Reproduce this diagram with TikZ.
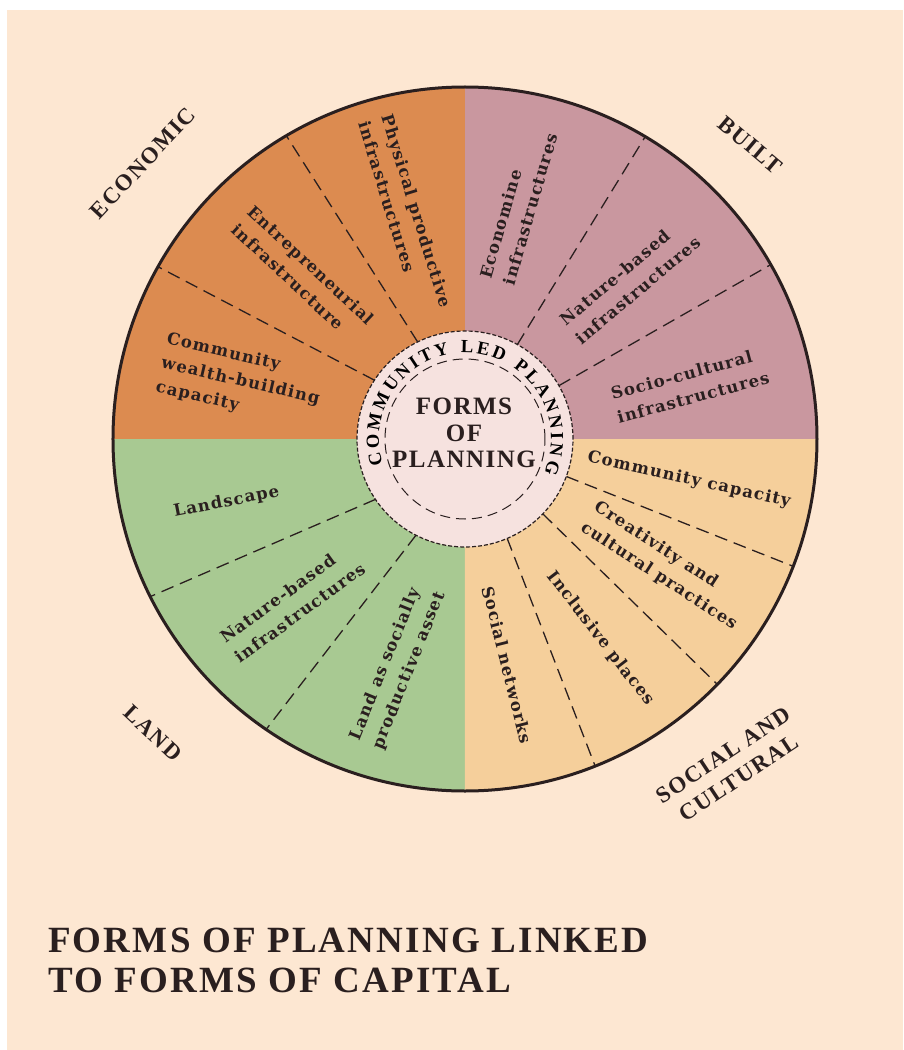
\documentclass[tikz,border=0pt]{standalone}
\usepackage{fontspec}
\setmainfont{Liberation Serif}
\newfontfamily\lblfont[LetterSpace=7]{DejaVu Serif}
\newfontfamily\capfont[LetterSpace=7]{Liberation Serif}
\newfontfamily\headfont[LetterSpace=6]{Liberation Serif}
\usetikzlibrary{decorations.text}

\definecolor{paper}{HTML}{FDE7D2}
\definecolor{ink}{HTML}{2A1F1F}
\definecolor{econ}{HTML}{DC8B50}
\definecolor{built}{HTML}{C9979F}
\definecolor{social}{HTML}{F5CF9B}
\definecolor{land}{HTML}{A8C992}
\definecolor{hub}{HTML}{F6E2DF}

\begin{document}
\begin{tikzpicture}[x=1pt,y=1pt]
	\tikzstyle{every node}=[align=center, inner sep=1pt, text=ink]
	\tikzstyle{sect}=[align=left, font=\lblfont\bfseries\fontsize{16.5}{24.5}\selectfont]
	\tikzstyle{quad}=[font=\capfont\bfseries\fontsize{23}{28}\selectfont]
	\tikzstyle{divider}=[draw=ink, line width=1.3pt, dash pattern=on 13pt off 7pt]

	\fill[white] (-465,-611) rectangle (438,439);
	\fill[paper] (-458,-611) rectangle (438,429);
	\useasboundingbox (-465,-611) rectangle (438,439);

	\fill[built]  (0,0) -- (0:352)   arc[start angle=0,   end angle=90,  radius=352] -- cycle;
	\fill[econ]   (0,0) -- (90:352)  arc[start angle=90,  end angle=180, radius=352] -- cycle;
	\fill[land]   (0,0) -- (180:352) arc[start angle=180, end angle=270, radius=352] -- cycle;
	\fill[social] (0,0) -- (270:352) arc[start angle=270, end angle=360, radius=352] -- cycle;

	\draw[divider] (116:108) -- (120.5:352);
	\draw[divider] (147:108) -- (150.7:352);
	\draw[divider] (61:108) -- (59.2:352);
	\draw[divider] (29.6:108) -- (29.7:352);
	\draw[divider] (214:108) -- (206.6:352);
	\draw[divider] (243:108) -- (235.6:352);
	\draw[divider] (-20.3:108) -- (-21.2:352);
	\draw[divider] (-43.9:108) -- (-44.2:352);
	\draw[divider] (-67:108) -- (-68.3:352);

	\draw[ink, line width=3pt] (0,0) circle[radius=352];
	\fill[hub] (0,0) circle[radius=108];
	\draw[ink, line width=1.2pt, dash pattern=on 4pt off 2pt] (0,0) circle[radius=108];
	\draw[ink, line width=1pt, dash pattern=on 10pt off 6pt] (0,0) circle[radius=80];

	\path[decorate, decoration={text along path, text align=fit to path,
		text={|\capfont\bfseries\fontsize{18.5}{18.5}\selectfont|COMMUNITY LED PLANNING}}]
		(197:86) arc[start angle=197, end angle=-23, radius=86];

	\node[font=\headfont\bfseries\fontsize{25}{26.5}\selectfont] (F) at (-1,6) {FORMS\\OF\\PLANNING};

	\node[sect, rotate=-73] (E1) at (-59.5,224.5) {Physical productive\\infrastructures};
	\node[sect, rotate=-43] (E2) at (-162,165) {Entrepreneurial\\infrastructure};
	\node[sect, rotate=-13] (E3) at (-224.5,57.5) {Community\\wealth-building\\capacity};

	\node[sect, rotate=74] (B1) at (53.5,233.3) {Economine\\infrastructures};
	\node[sect, rotate=40] (B2) at (164.8,158.2) {Nature-based\\infrastructures};
	\node[sect, rotate=15] (B3) at (225,53.6) {Socio-cultural\\infrastructures};

	\node[sect, rotate=-12.5] (S1) at (224,-41) {Community capacity};
	\node[sect, rotate=-33] (S2) at (200.5,-127) {Creativity and\\cultural practices};
	\node[sect, rotate=-52.5] (S3) at (135.5,-199.5) {Inclusive places};
	\node[sect, rotate=-76] (S4) at (42.5,-226) {Social networks};

	\node[sect, rotate=11] (L1) at (-238.5,-63) {Landscape};
	\node[sect, rotate=36] (L2) at (-172.5,-163.8) {Nature-based\\infrastructures};
	\node[sect, rotate=68] (L3) at (-67,-227) {Land as socially\\productive asset};

	\node[quad, rotate=47] (Econ) at (-322,276) {ECONOMIC};
	\node[quad, rotate=-40] (Built) at (285,294) {BUILT};
	\node[quad, rotate=-43] (Land) at (-312,-294) {LAND};
	\node[quad, rotate=33.5] (Soc) at (266,-327.5) {SOCIAL AND\\CULTURAL};

	\node[anchor=north west, align=left, inner sep=0pt,
		font=\headfont\bfseries\fontsize{37}{40}\selectfont] (T) at (-417,-489)
		{FORMS OF PLANNING LINKED\\TO FORMS OF CAPITAL};
\end{tikzpicture}
\end{document}
